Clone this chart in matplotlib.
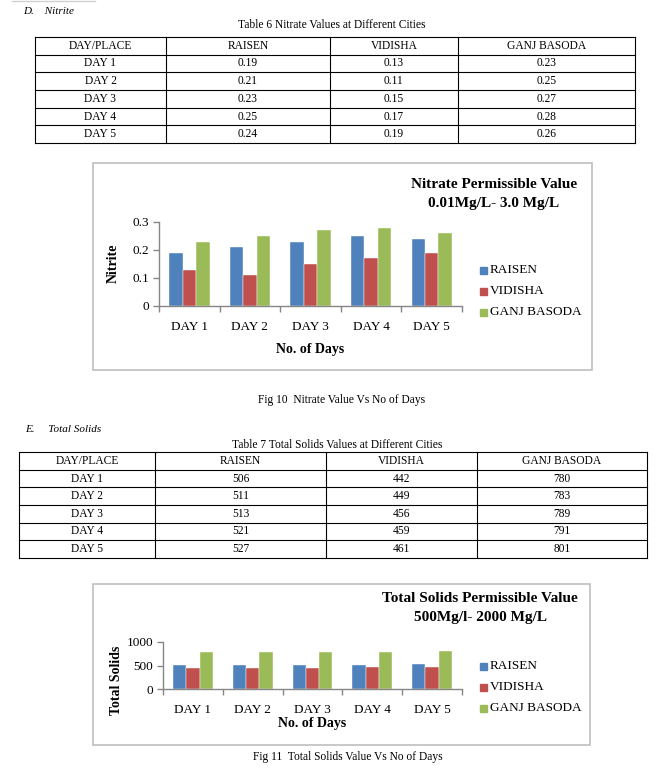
import matplotlib.pyplot as plt
from matplotlib.patches import Rectangle

days = ["DAY 1", "DAY 2", "DAY 3", "DAY 4", "DAY 5"]
places = ["RAISEN", "VIDISHA", "GANJ BASODA"]

nitrate_raisen = [0.19, 0.21, 0.23, 0.25, 0.24]
nitrate_vidisha = [0.13, 0.11, 0.15, 0.17, 0.19]
nitrate_ganj = [0.23, 0.25, 0.27, 0.28, 0.26]
nitrate_ticks = [0, 0.1, 0.2, 0.3]

solids_raisen = [506, 511, 513, 521, 527]
solids_vidisha = [442, 449, 456, 459, 461]
solids_ganj = [780, 783, 789, 791, 801]
solids_ticks = [0, 500, 1000]

colors = ["#4F81BD", "#C0504D", "#9BBB59"]
serif = "Liberation Serif"

W, H = 664, 770
fig = plt.figure(figsize=(W / 100, H / 100), dpi=100)
page = fig.add_axes([0, 0, 1, 1])
page.set_xlim(0, W)
page.set_ylim(H, 0)
page.axis("off")


def px_axes(x0, y0, x1, y1):
    return fig.add_axes([x0 / W, 1 - y1 / H, (x1 - x0) / W, (y1 - y0) / H])


def draw_table(cols, top, row_h, header, rows):
    n = len(rows) + 1
    bottom = top + n * row_h
    for x in cols:
        page.plot([x, x], [top, bottom], color="black", lw=0.8)
    for i in range(n + 1):
        y = top + i * row_h
        page.plot([cols[0], cols[-1]], [y, y], color="black", lw=0.8)
    for r, row in enumerate([header] + rows):
        yc = top + (r + 0.5) * row_h
        for c, txt in enumerate(row):
            xc = (cols[c] + cols[c + 1]) / 2
            page.text(xc, yc, txt, ha="center", va="center", fontsize=8.3, family=serif)


def draw_chart(box, rect, series, ticks, ylabel, ylab_xy, xlab_y, title, title_xy, legend_x, legend_y):
    # outer chart border
    page.add_patch(Rectangle((box[0], box[1]), box[2] - box[0], box[3] - box[1],
                             fill=False, edgecolor="#BFBFBF", lw=1.2))
    ax = px_axes(*rect)
    width = 1 / 4.5
    for i, vals in enumerate(series):
        x = [d + (i - 1) * width for d in range(len(days))]
        ax.bar(x, vals, width, color=colors[i], edgecolor="white", linewidth=0.3)
    ax.set_xlim(-0.5, len(days) - 0.5)
    ax.set_ylim(ticks[0], ticks[-1])
    ax.set_yticks(ticks)
    ax.set_yticklabels([("%g" % t) for t in ticks], family=serif, fontsize=9.5)
    ax.set_xticks(range(len(days)))
    ax.set_xticklabels(days, family=serif, fontsize=9.5)
    ax.set_xticks([d + 0.5 for d in range(-1, len(days))], minor=True)
    ax.tick_params(axis="x", which="major", length=0, pad=11)
    ax.tick_params(axis="x", which="minor", length=4, color="#868686", width=1)
    ax.tick_params(axis="y", length=4, color="#868686", width=1, pad=3)
    for s in ["top", "right"]:
        ax.spines[s].set_visible(False)
    for s in ["left", "bottom"]:
        ax.spines[s].set_color("#868686")
        ax.spines[s].set_linewidth(1)
    ax.patch.set_alpha(0)

    page.text(ylab_xy[0], ylab_xy[1], ylabel, rotation=90, ha="center", va="center",
              fontsize=10, fontweight="bold", family=serif)
    page.text((rect[0] + rect[2]) / 2, xlab_y, "No. of Days", ha="center", va="center",
              fontsize=10, fontweight="bold", family=serif)
    for k, line in enumerate(title):
        page.text(title_xy[0], title_xy[1] + k * 19, line, ha="center", va="center",
                  fontsize=11, fontweight="bold", family=serif)
    for i, name in enumerate(places):
        y = legend_y + i * 21
        page.add_patch(Rectangle((legend_x - 3.5, y - 3.5), 7, 7, color=colors[i]))
        page.text(legend_x + 7, y, name, ha="left", va="center", fontsize=9.5, family=serif)


# top-left rule and section heading
page.plot([12, 95], [1, 1], color="#D0D0D0", lw=1)
page.text(23, 12, "D.    Nitrite", style="italic", fontsize=8, family=serif, va="center")
page.text(332, 25, "Table 6 Nitrate Values at Different Cities", ha="center", va="center",
          fontsize=8.3, family=serif)
rows6 = [[days[i], "%.2f" % nitrate_raisen[i], "%.2f" % nitrate_vidisha[i], "%.2f" % nitrate_ganj[i]]
         for i in range(len(days))]
draw_table([35, 166, 330, 458, 635], 37, 106 / 6, ["DAY/PLACE"] + places, rows6)

draw_chart((93, 163, 592, 370), (159, 222, 462, 306),
           [nitrate_raisen, nitrate_vidisha, nitrate_ganj], nitrate_ticks,
           "Nitrite", (113, 263), 349,
           ["Nitrate Permissible Value", "0.01Mg/L- 3.0 Mg/L"], (494, 184), 483, 270)

page.text(342, 400, "Fig 10  Nitrate Value Vs No of Days", ha="center", va="center",
          fontsize=8.3, family=serif)

page.text(25, 430, "E.     Total Solids", style="italic", fontsize=8, family=serif, va="center")
page.text(337, 445, "Table 7 Total Solids Values at Different Cities", ha="center", va="center",
          fontsize=8.3, family=serif)
rows7 = [[days[i], "%d" % solids_raisen[i], "%d" % solids_vidisha[i], "%d" % solids_ganj[i]]
         for i in range(len(days))]
draw_table([19, 155, 326, 477, 647], 452, 106 / 6, ["DAY/PLACE"] + places, rows7)

draw_chart((93, 584, 590, 745), (163, 642, 462, 689),
           [solids_raisen, solids_vidisha, solids_ganj], solids_ticks,
           "Total Solids", (117, 680), 723,
           ["Total Solids Permissible Value", "500Mg/l- 2000 Mg/L"], (480, 599), 483, 666)

page.text(348, 757, "Fig 11  Total Solids Value Vs No of Days", ha="center", va="center",
          fontsize=8.3, family=serif)

plt.savefig("out.png", dpi=100)
